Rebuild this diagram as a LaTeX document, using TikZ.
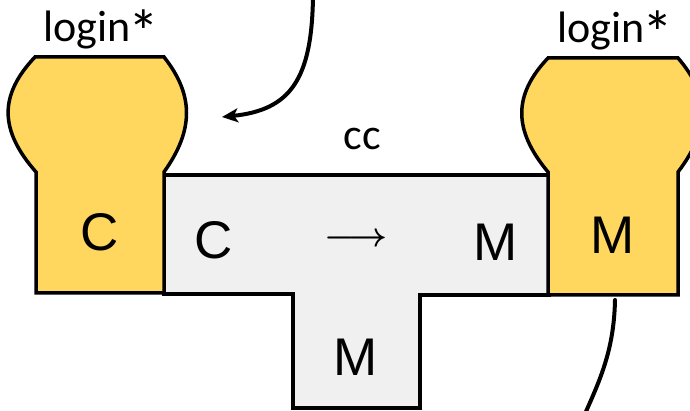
\documentclass[tikz,border=0pt]{standalone}
\usepackage{fontspec}
\usepackage{graphicx}
\setmainfont{Carlito}
\newfontfamily\letterfont{Liberation Sans}
\usetikzlibrary{arrows.meta}
\definecolor{gold}{HTML}{FFD75E}
\definecolor{paper}{HTML}{F0F0F0}
% a larger asterisk, lowered to the ascender line
\newcommand{\bigast}{\kern-2pt\raisebox{-12pt}{\scalebox{1.4}{*}}}
\tikzset{
  piece/.style={fill=gold, draw=black, line width=3.5pt},
  plate/.style={fill=paper, draw=black, line width=3.5pt},
  caption/.style={font=\fontsize{44}{44}\selectfont, inner sep=0pt, anchor=base},
  letter/.style={font=\letterfont\fontsize{53}{53}\selectfont, inner sep=0pt, anchor=base},
  flow/.style={line width=4pt, line cap=round},
}
\begin{document}
\begin{tikzpicture}[x=1pt,y=-1pt]
\useasboundingbox (0,0) rectangle (690,411);
\fill[white] (0,0) rectangle (690,411);

% T-shaped plate in the middle
\draw[plate] (164,175) -- (549,175) -- (549,295) -- (420,295) -- (420,408)
  -- (293,408) -- (293,294) -- (164,294) -- cycle;

% left puzzle piece
\draw[piece] (36,293) -- (36,172) .. controls (-1,130) and (-1,95) .. (35,57)
  -- (164,57) .. controls (194,95) and (194,130) .. (164,172) -- (164,293) -- cycle;

% right puzzle piece
\draw[piece] (548,295) -- (548,172) .. controls (513,130) and (513,95) .. (548,58)
  -- (678,58) .. controls (710,95) and (710,130) .. (678,172) -- (678,295) -- cycle;

% labels
\node[caption] (loginL) at (101,42) {login\bigast};
\node[caption] (loginR) at (615,43) {login\bigast};
\node[caption] (cc) at (362,150) {cc};
\node[letter] (cL) at (100,251) {C};
\node[letter] (cT) at (214,259) {C};
\node[letter] (mT) at (496,261) {M};
\node[letter] (mR) at (613,254) {M};
\node[letter] (mS) at (356,375) {M};
\node[inner sep=0pt] (to) at (356,240) {\scalebox{3.4}{\boldmath$\longrightarrow$}};

% connectors
\coordinate (srcTop) at (313,-4);
\coordinate (tipL) at (222,117);
\draw[flow, -{Stealth[length=16pt, width=14pt, inset=4pt]}]
  (srcTop) .. controls (312,80) and (290,110) .. (tipL);
\coordinate (srcR) at (615,300);
\coordinate (offB) at (584,416);
\draw[flow] (srcR) .. controls (614,350) and (600,380) .. (offB);
\end{tikzpicture}
\end{document}
